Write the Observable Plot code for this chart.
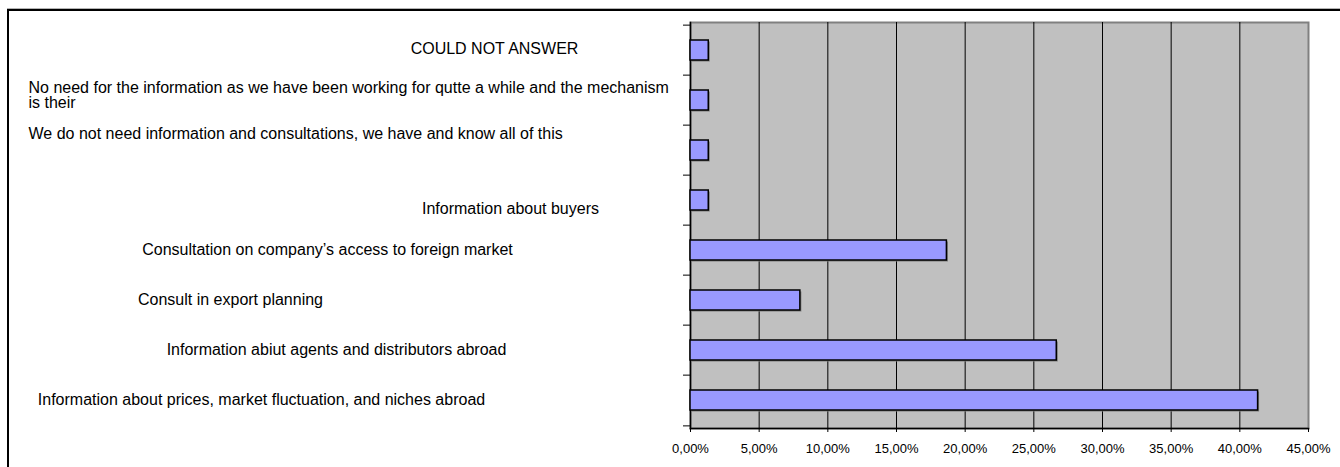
<!DOCTYPE html>
<html>
<head>
<meta charset="utf-8">
<script src="https://cdn.jsdelivr.net/npm/d3@7"></script>
<script src="https://cdn.jsdelivr.net/npm/@observablehq/plot@0.6"></script>
<style>
  body { margin: 0; background: #fff; }
  #wrap { position: relative; width: 1340px; height: 467px; overflow: hidden; }
  #topline { position: absolute; left: 7px; top: 8px; width: 1400px; height: 1px; background: #b4b4b4; }
  #box { position: absolute; left: 7px; top: 9px; width: 1400px; height: 520px; border: 2px solid #000; box-sizing: border-box; }
  #chart { position: absolute; left: 0; top: 0; }
</style>
</head>
<body>
<div id="wrap">
  <div id="topline"></div>
  <div id="box"></div>
  <div id="chart"></div>
</div>
<script>
// Kinds of information / consultation requested (top to bottom)
const categories = [
  "COULD NOT ANSWER",
  "No need for the information as we have been working for qutte a while and the mechanism\nis their",
  "We do not need information and consultations, we have and know all of this",
  "Information about buyers",
  "Consultation on company\u2019s access to foreign market",
  "Consult in export planning",
  "Information abiut agents and distributors abroad",
  "Information about prices, market fluctuation, and niches abroad"
];

// Share of respondents, in percent
const shares = [1.33, 1.33, 1.33, 1.33, 18.67, 8.00, 26.67, 41.33];

// Value axis ticks, in percent
const xTicks = [0, 5, 10, 15, 20, 25, 30, 35, 40, 45];

// Category label layout (anchor x in pixels, alignment, vertical nudge)
const labelX = [494, 28, 28, 510, 327, 230, 336, 261];
const labelAlign = ["middle", "start", "start", "middle", "middle", "middle", "middle", "middle"];
const labelDy = [-1, -4.6, -16.4, 8.4, 0, 0, 0, 0];

const rows = categories.map((category, i) => ({category, share: shares[i]}));

const W = 1340, H = 467;
const margin = {top: 22, right: 32, bottom: 39, left: 690};
const padIn = 0.6, padOut = 0.3;
const step = (H - margin.top - margin.bottom) / (categories.length - padIn + 2 * padOut);

const fmt = d => d.toFixed(2).replace(".", ",") + "%";

const labelMarks = categories.map((c, i) =>
  Plot.text([c], {
    y: d => d,
    text: d => d,
    frameAnchor: "left",
    dx: labelX[i] - margin.left,
    dy: labelDy[i],
    textAnchor: labelAlign[i],
    lineHeight: 0.95,
    fontSize: 16,
    fill: "#000"
  })
);

const chart = Plot.plot({
  width: W,
  height: H,
  marginTop: margin.top,
  marginRight: margin.right,
  marginBottom: margin.bottom,
  marginLeft: margin.left,
  style: {fontFamily: "'Liberation Sans', Arial, sans-serif", fontSize: "13px", color: "#000", background: "transparent"},
  x: {domain: [0, 45], axis: null},
  y: {domain: categories, paddingInner: padIn, paddingOuter: padOut, axis: null},
  marks: [
    Plot.frame({fill: "#C0C0C0", stroke: "#808080", strokeWidth: 2}),
    Plot.ruleX(xTicks.slice(1, -1), {stroke: "#000", strokeWidth: 1}),
    Plot.frame({anchor: "left", stroke: "#000", strokeWidth: 1.5}),
    Plot.frame({anchor: "bottom", stroke: "#000", strokeWidth: 1.5}),
    // bar shadow
    Plot.barX(rows, {x: "share", y: "category", fill: "#7a7a7a", dx: 1.5, dy: 1.5}),
    Plot.barX(rows, {x: "share", y: "category", fill: "#9999FF", stroke: "#000", strokeWidth: 1.5}),
    Plot.axisX(xTicks, {anchor: "bottom", label: null, tickSize: 4, tickPadding: 11, tickFormat: fmt, stroke: "#000", fill: "#000", fontSize: 13}),
    Plot.axisY({anchor: "left", tickSize: 7, tickFormat: () => "", label: null, dy: -step / 2, stroke: "#000"}),
    Plot.axisY([categories[categories.length - 1]], {anchor: "left", tickSize: 7, tickFormat: () => "", label: null, dy: step / 2, stroke: "#000"}),
    ...labelMarks
  ]
});

document.getElementById("chart").append(chart);
</script>
</body>
</html>
